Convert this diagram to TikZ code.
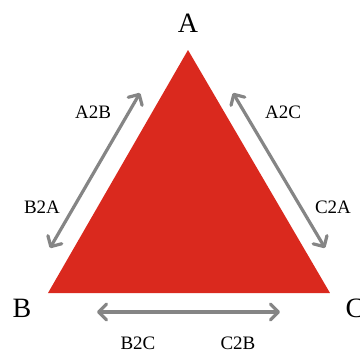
\documentclass[tikz,border=0pt]{standalone}
\usepackage{fontspec}
\setmainfont{Liberation Serif}
\usetikzlibrary{arrows.meta}
\definecolor{trired}{HTML}{DA291E}
\definecolor{arrgrey}{HTML}{858585}
\begin{document}
\begin{tikzpicture}[x=1pt,y=-1pt,
  vlabel/.style={font=\fontsize{28}{30}\selectfont, inner sep=0pt},
  elabel/.style={font=\fontsize{19}{21}\selectfont, inner sep=0pt},
  dbl/.style={draw=arrgrey, line width=3.2pt, line cap=round,
    {Straight Barb[length=8pt,width=16pt,line cap=round,line join=round]}-{Straight Barb[length=8pt,width=16pt,line cap=round,line join=round]}}]
\useasboundingbox (0,0) rectangle (360,351);
\coordinate (A) at (188,50);
\coordinate (B) at (48,293);
\coordinate (C) at (330,293);
\fill[trired] (A) -- (B) -- (C) -- cycle;
\node[vlabel] (lA) at (188,23) {A};
\node[vlabel] (lB) at (22,308) {B};
\node[vlabel] (lC) at (355,308) {C};
\coordinate (l1) at (50,248);
\coordinate (l2) at (140,93);
\coordinate (r1) at (233,93);
\coordinate (r2) at (325,248);
\coordinate (b1) at (97,312);
\coordinate (b2) at (280,312);
\draw[dbl] (l1) -- (l2);
\draw[dbl] (r1) -- (r2);
\draw[dbl] (b1) -- (b2);
\node[elabel] (a2b) at (93,112) {A2B};
\node[elabel] (a2c) at (283,112) {A2C};
\node[elabel] (b2a) at (42,207) {B2A};
\node[elabel] (c2a) at (333,207) {C2A};
\node[elabel] (b2c) at (138,343) {B2C};
\node[elabel] (c2b) at (238,343) {C2B};
\end{tikzpicture}
\end{document}
